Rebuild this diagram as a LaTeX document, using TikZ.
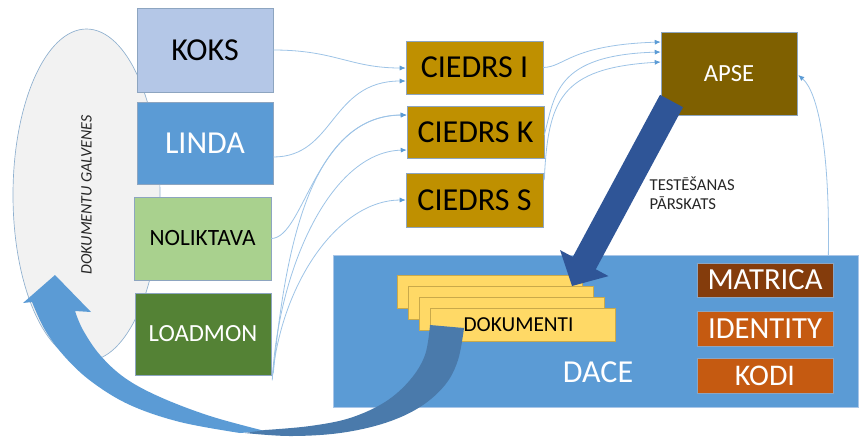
\documentclass[tikz,border=0pt]{standalone}
\usepackage{fontspec}
\setmainfont{Carlito}
\usetikzlibrary{arrows.meta,calc,shapes.geometric}
\definecolor{boxline}{HTML}{8DA5C0}
\definecolor{connline}{HTML}{9DC3E6}
\definecolor{connhead}{HTML}{5B9BD5}
\definecolor{elfill}{HTML}{F2F2F2}
\definecolor{elline}{HTML}{8FB0CF}
\definecolor{kokscol}{HTML}{B4C7E7}
\definecolor{lindacol}{HTML}{5B9BD5}
\definecolor{nolcol}{HTML}{A9D18E}
\definecolor{lmcol}{HTML}{548235}
\definecolor{ciedrscol}{HTML}{BF9000}
\definecolor{apsecol}{HTML}{7F6000}
\definecolor{matcol}{HTML}{843C0C}
\definecolor{idcol}{HTML}{C55A11}
\definecolor{dacecol}{HTML}{5B9BD5}
\definecolor{daceline}{HTML}{A9C6E8}
\definecolor{doccol}{HTML}{FFD966}
\definecolor{docline}{HTML}{C9A94A}
\definecolor{bigarrow}{HTML}{2F5597}
\definecolor{arrowlight}{HTML}{5B9BD5}
\definecolor{arrowdark}{HTML}{4A7AAB}
\definecolor{darktext}{HTML}{262626}
\begin{document}
\begin{tikzpicture}[x=0.75pt,y=-0.75pt,
  box/.style={draw=boxline, line width=0.4pt, inner sep=0pt, align=center},
  conn/.style={draw=connline, line width=0.6pt, -{Latex[length=4.5pt,width=3.8pt,color=connhead]}},
  docbox/.style={draw=docline, line width=0.4pt, fill=doccol, minimum width=138.75pt, minimum height=24.75pt, inner sep=0pt},
  fz/.style={font=\fontsize{#1}{#1}\selectfont}
]
\useasboundingbox (0,0) rectangle (859,440);

% ellipse
\node[ellipse, rotate=90, draw=elline, line width=0.5pt, fill=elfill, minimum width=249pt, minimum height=110.25pt, inner sep=0pt, text=darktext, font=\itshape\fontsize{12}{14}\selectfont] (gal) at (86.5,195) {DOKUMENTU GALVENES};

% curved arrow, light face
\fill[arrowlight] plot[smooth, tension=0.6] coordinates {(265,431) (210,416) (160,397) (125,378) (100,355) (83,330) (75,311)} -- (91,312) -- (55,275) -- (23,303) -- plot[smooth, tension=0.6] coordinates {(32,302) (45,330) (65,357) (92,382) (130,405) (180,422) (240,433)} -- cycle;

% left boxes
\node[box, fill=kokscol, text=black, fz=24, minimum width=102pt, minimum height=63pt] (koks) at (205,50) {KOKS};
\node[box, fill=lindacol, text=white, fz=24, minimum width=102pt, minimum height=61.5pt] (linda) at (205,143) {LINDA};
\node[box, fill=nolcol, text=black, fz=17.5, minimum width=102.75pt, minimum height=62.25pt] (nol) at (202.5,238.5) {NOLIKTAVA};
\node[box, fill=lmcol, text=white, fz=18.5, minimum width=102pt, minimum height=61.5pt] (lm) at (203,334) {LOADMON};

% ciedrs
\node[box, fill=ciedrscol, text=black, fz=24, minimum width=102.75pt, minimum height=39.75pt] (ci) at (474.5,67.5) {CIEDRS I};
\node[box, fill=ciedrscol, text=black, fz=24, minimum width=102.75pt, minimum height=39pt] (ck) at (475.5,132) {CIEDRS K};
\node[box, fill=ciedrscol, text=black, fz=24, minimum width=102.75pt, minimum height=40.5pt] (cs) at (474.5,200) {CIEDRS S};

% apse
\node[box, fill=apsecol, text=white, fz=18.5, minimum width=102pt, minimum height=62.25pt] (apse) at (729,73.5) {APSE};

% connectors
\draw[conn] (koks.east) .. controls (335,50) and (350,68) .. ($(ci.west)+(0,0.5)$);
\draw[conn] ($(linda.east)+(0,14)$) .. controls (335,157) and (330,81) .. ($(ci.west)+(0,13.5)$);
\draw[conn] (nol.east) .. controls (305,238) and (315,115) .. ($(ck.west)+(0,-17)$);
\draw[conn] ($(lm.south east)+(2,-2)$) .. controls (285,250) and (310,116) .. ($(ck.west)+(0,-17)$);
\draw[conn] ($(lm.south east)+(1,5)$) .. controls (278,270) and (330,152) .. ($(ck.west)+(0,18)$);
\draw[conn] ($(lm.south east)+(1,2)$) .. controls (282,280) and (340,200) .. (cs.west);
\draw[conn] (ci.east) .. controls (565,67) and (570,45) .. ($(apse.west)+(0,-31.5)$);
\draw[conn] ($(ck.east)+(0,3)$) .. controls (555,95) and (555,55) .. ($(apse.west)+(0,-21.5)$);
\draw[conn] ($(cs.east)+(1,-20)$) .. controls (548,100) and (560,68) .. ($(apse.west)+(0,-11.5)$);

% DACE
\node[draw=daceline, line width=0.5pt, fill=dacecol, minimum width=393.75pt, minimum height=114pt, inner sep=0pt] (dace) at (595.5,331.5) {};
\node[text=white, fz=24] (dacelabel) at (598,372) {DACE};
\draw[conn] ($(dace.north east)+(-30,0)$) .. controls (830,150) and (818,92) .. ($(apse.east)+(1,1.5)$);

% documents
\node[docbox] (d1) at (489.5,291.5) {};
\node[docbox] (d2) at (500.5,302.5) {};
\node[docbox] (d3) at (511.5,313.5) {};
\node[docbox, text=black, fz=16] (d4) at (522.5,325) {\hspace*{-6pt}DOKUMENTI};

% right boxes
\node[box, fill=matcol, text=white, fz=23, minimum width=102pt, minimum height=25.5pt] (mat) at (765,280) {MATRICA};
\node[box, fill=idcol, text=white, fz=23, minimum width=102pt, minimum height=26.25pt] (ident) at (765,328.5) {IDENTITY};
\node[box, fill=idcol, text=white, fz=22.5, minimum width=102pt, minimum height=26.25pt] (kodi) at (765,375.5) {KODI};

% curved arrow, dark face
\fill[arrowdark] (430,325) -- plot[smooth, tension=0.6] coordinates {(464,328) (458,360) (445,385) (420,407) (385,423) (340,433) (290,436) (245,433)} -- plot[smooth, tension=0.6] coordinates {(265,430) (310,426) (350,418) (385,402) (410,380) (425,355) (430,325)} -- cycle;

% big testing arrow
\fill[bigarrow] (660.0,94.8) -- (683.0,107.2) -- (595.8,269.3) -- (608.5,276.1) -- (572.0,286.0) -- (560.1,250.1) -- (572.8,256.9) -- cycle;
\node[anchor=west, align=left, text=darktext, font=\fontsize{12.5}{14.25}\selectfont] (test) at (645,193.5) {TESTĒŠANAS\\PĀRSKATS};
\end{tikzpicture}
\end{document}
